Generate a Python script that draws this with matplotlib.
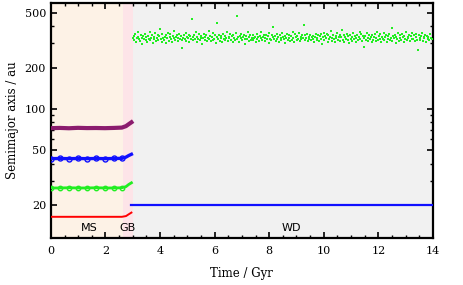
import numpy as np
import matplotlib
matplotlib.use("Agg")
import matplotlib.pyplot as plt
from matplotlib.ticker import LogLocator, FixedLocator, FixedFormatter, NullFormatter, MultipleLocator

# fases evolutivas (Gyr)
fases = ["MS", "GB", "WD"]
limites = [0.0, 2.64, 3.0, 14.0]
cores_fase = ["#fdf2e6", "#fde4e8", "#f1f1f1"]

# orbitas antes da fase de anã branca
t_ms = [0.0, 0.33, 0.66, 0.99, 1.32, 1.65, 1.98, 2.31, 2.6, 2.75, 2.85, 2.95]
a_vermelho = [16.4, 16.4, 16.4, 16.4, 16.4, 16.4, 16.4, 16.4, 16.4, 16.6, 17.1, 17.6]
a_verde = [26.6, 26.6, 26.7, 26.6, 26.6, 26.7, 26.6, 26.6, 26.7, 27.2, 28.2, 29.0]
a_azul = [43.5, 43.6, 43.5, 43.6, 43.5, 43.6, 43.5, 43.6, 43.7, 44.6, 45.8, 46.8]
a_roxo = [72.5, 72.8, 72.4, 72.9, 72.6, 72.7, 72.5, 72.8, 73.2, 75.0, 77.5, 80.0]

# fase WD
t_wd_azul = [2.95, 14.0]
a_wd_azul = [20.0, 20.0]
a_wd_verde = [
    330, 318, 342, 351, 309, 327, 336, 361, 322, 314, 345, 330, 298, 338, 326,
    352, 317, 334, 308, 341, 325, 366, 319, 331, 347, 303, 336, 322, 357, 312,
    329, 344, 316, 338, 384, 323, 310, 349, 331, 320, 336, 301, 343, 327, 360,
    315, 333, 349, 321, 306, 340, 328, 372, 318, 335, 345, 311, 329, 352, 324,
    338, 317, 280, 330, 346, 322, 359, 313, 334, 327, 348, 305, 339, 321, 455,
    332, 316, 343, 326, 362, 309, 337, 324, 350, 318, 331, 341, 296, 328, 354,
    320, 335, 347, 314, 329, 368, 323, 340, 311, 333, 357, 319, 326, 344, 302,
    337, 425, 322, 348, 315, 330, 339, 308, 353, 325, 318, 342, 331, 363, 312,
    334, 327, 349, 320, 338, 305, 346, 329, 316, 356, 323, 475, 335, 310, 341,
    328, 351, 317, 332, 345, 322, 299, 339, 326, 361, 313, 336, 347, 320, 330,
    346, 318, 329, 337, 308, 352, 324, 333, 315, 341, 327, 364, 319, 336, 345,
    311, 330, 348, 322, 339, 304, 356, 326, 317, 343, 332, 395, 321, 338, 313,
    350, 325, 334, 309, 347, 328, 319, 359, 336, 323, 342, 300, 331, 353, 316,
    327, 344, 312, 338, 320, 366, 329, 306, 349, 333, 318, 340, 325, 357, 314,
    335, 322, 346, 330, 410, 317, 343, 328, 351, 311, 337, 324, 348, 319, 332,
    323, 341, 307, 336, 354, 318, 329, 345, 312, 338, 326, 349, 297, 333, 360,
    316, 339, 327, 352, 310, 344, 321, 335, 370, 315, 331, 347, 324, 306, 340,
    328, 355, 319, 337, 311, 346, 332, 378, 320, 343, 309, 334, 325, 351, 317,
    339, 302, 348, 326, 333, 314, 358, 322, 341, 330, 307, 345, 318, 336, 362,
    324, 350, 313, 338, 327, 285, 342, 319, 356, 331, 315, 347, 323, 334, 308,
    344, 320, 337, 352, 312, 329, 365, 318, 340, 326, 349, 305, 335, 321, 358,
    316, 333, 346, 310, 339, 324, 353, 319, 330, 388, 313, 342, 327, 348, 304,
    337, 322, 355, 315, 344, 329, 318, 350, 332, 309, 341, 325, 363, 317, 336,
    328, 347, 311, 338, 321, 359, 326, 343, 314, 333, 351, 320, 268, 345, 330,
    319, 340, 356, 312, 335, 327, 348, 308, 342, 323, 337, 316, 353, 331, 325,
]
t_wd_verde = np.linspace(3.0, 13.95, len(a_wd_verde))

plt.rcParams["font.family"] = ["DejaVu Serif"]
fig = plt.figure(figsize=(4.63, 2.85), dpi=100)
ax = fig.add_axes([0.110, 0.165, 0.825, 0.824])

for i in range(3):
    ax.axvspan(limites[i], limites[i + 1], color=cores_fase[i], lw=0, zorder=0)

# bandas com "contas"
for a, cor, lw, ms in [(a_vermelho, "#ff0000", 1.4, 0), (a_verde, "#22ee22", 2.0, 3.2),
                       (a_azul, "#1010ff", 2.4, 3.6), (a_roxo, "#8b1c6e", 3.0, 0)]:
    ax.plot(t_ms, a, color=cor, lw=lw, zorder=3)
    if ms:
        ax.plot(t_ms[:9], a[:9], ls="none", marker="o", ms=ms, mfc="none",
                mec=cor, mew=1.0, zorder=3)

ax.plot(t_wd_azul, a_wd_azul, color="#1010ff", lw=1.6, zorder=3)
ax.plot(t_wd_verde, a_wd_verde, ls="none", marker="s", ms=2.0, mew=0,
        color="#22ee22", zorder=3)

ax.text(1.4, 13.6, "MS", family="DejaVu Sans", fontsize=8, ha="center", va="center")
ax.text(2.8, 13.6, "GB", family="DejaVu Sans", fontsize=8, ha="center", va="center")
ax.text(8.8, 13.6, "WD", family="DejaVu Sans", fontsize=8, ha="center", va="center")

ax.set_yscale("log")
ax.set_xlim(0, 14)
ax.set_ylim(11.5, 590)
ax.xaxis.set_major_locator(MultipleLocator(2))
ax.xaxis.set_minor_locator(MultipleLocator(0.5))
ax.yaxis.set_major_locator(FixedLocator([20, 50, 100, 200, 500]))
ax.yaxis.set_major_formatter(FixedFormatter(["20", "50", "100", "200", "500"]))
ax.yaxis.set_minor_locator(LogLocator(base=10, subs=(3, 4, 6, 7, 8, 9)))
ax.yaxis.set_minor_formatter(NullFormatter())
ax.tick_params(which="both", direction="in", top=True, right=True, labelsize=8)
ax.tick_params(which="major", length=4, width=1.2)
ax.tick_params(which="minor", length=2.5, width=1)
ax.tick_params(axis="x", pad=6)
for s in ax.spines.values():
    s.set_linewidth(1.6)

ax.set_xlabel("Time / Gyr", fontsize=8.5, labelpad=8)
ax.set_ylabel("Semimajor axis / au", fontsize=8.5)

fig.savefig("out.png", dpi=100)
